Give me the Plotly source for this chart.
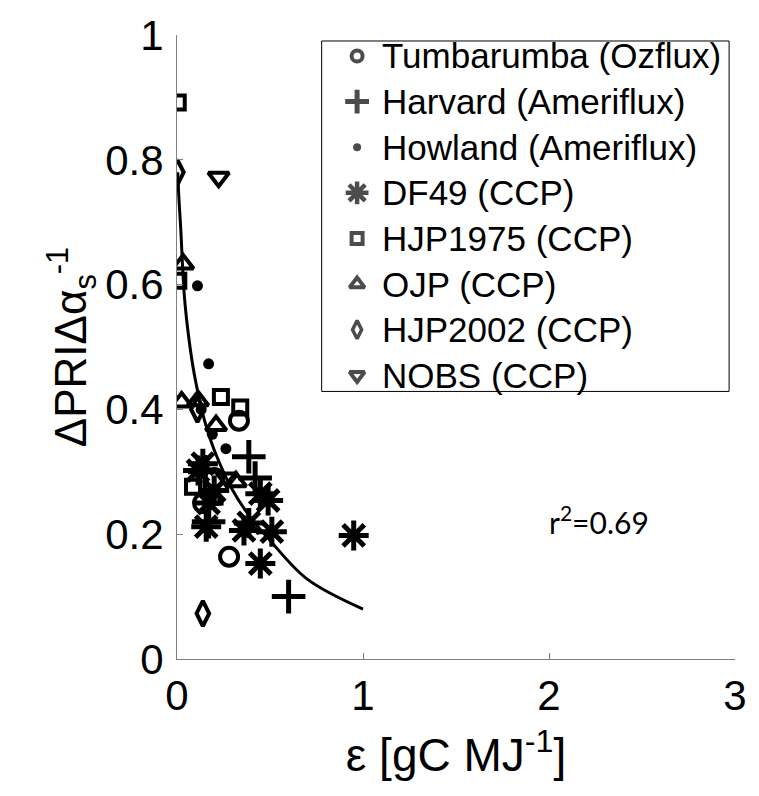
import plotly.graph_objects as go

# Site observations: light-use efficiency (x) vs. normalised PRI response (y)
tumbarumba_x = [0.28, 0.333, 0.14, 0.20]
tumbarumba_y = [0.164, 0.382, 0.25, 0.29]

harvard_x = [0.60, 0.386, 0.42, 0.17, 0.15]
harvard_y = [0.10, 0.324, 0.29, 0.22, 0.30]

howland_x = [0.11, 0.17, 0.263, 0.13, 0.19]
howland_y = [0.598, 0.473, 0.337, 0.40, 0.36]

df49_x = [0.95, 0.51, 0.49, 0.448, 0.36, 0.157, 0.448, 0.113, 0.139, 0.386, 0.20, 0.17]
df49_y = [0.198, 0.204, 0.254, 0.153, 0.206, 0.212, 0.265, 0.302, 0.313, 0.218, 0.27, 0.25]

hjp1975_x = [0.004, 0.007, 0.236, 0.34, 0.086, 0.19]
hjp1975_y = [0.892, 0.606, 0.42, 0.403, 0.276, 0.26]

ojp_x = [0.033, 0.025, 0.113, 0.21, 0.316]
ojp_y = [0.633, 0.412, 0.414, 0.374, 0.284]

hjp2002_x = [0.002, 0.139, 0.11]
hjp2002_y = [0.78, 0.073, 0.40]

nobs_x = [0.224, 0.27]
nobs_y = [0.772, 0.29]

# Fitted curve through all sites
fit_x = [0.004, 0.01, 0.02, 0.04, 0.07, 0.1, 0.15, 0.2, 0.3, 0.4, 0.5, 0.7, 1.0]
fit_y = [0.78, 0.74, 0.69, 0.58, 0.50, 0.445, 0.38, 0.335, 0.27, 0.225, 0.19, 0.128, 0.08]

r2_label = "r<sup>2</sup>=0.69"

x_ticks = [0, 1, 2, 3]
y_ticks = [0, 0.2, 0.4, 0.6, 0.8, 1]
y_tick_text = ["0", "0.2", "0.4", "0.6", "0.8", "1"]

FONT = "Liberation Sans, Arial, sans-serif"

# name, x, y, plot symbol, plot size, plot stroke, key size, key stroke
series = [
    ("Tumbarumba (Ozflux)", tumbarumba_x, tumbarumba_y, "circle-open", 18, 4, 11, 4),
    ("Harvard (Ameriflux)", harvard_x, harvard_y, "cross-thin-open", 24, 5, 17, 5),
    ("Howland (Ameriflux)", howland_x, howland_y, "circle", 11, 0, 8, 0),
    ("DF49 (CCP)", df49_x, df49_y, "asterisk-open", 25, 5, 19, 4.5),
    ("HJP1975 (CCP)", hjp1975_x, hjp1975_y, "square-open", 14, 4, 11, 4),
    ("OJP (CCP)", ojp_x, ojp_y, "triangle-up-open", 18, 4, 13, 4),
    ("HJP2002 (CCP)", hjp2002_x, hjp2002_y, "diamond-tall-open", 18, 4, 13, 3.5),
    ("NOBS (CCP)", nobs_x, nobs_y, "triangle-down-open", 18, 4, 13, 4),
]

# Plot-area geometry (pixels) used by the overlay axes for the key
PLOT_L, PLOT_R, PLOT_T, PLOT_B = 177, 744, 34, 659
KEY_BOX = (324, 738, 40, 391)
KEY_SYMBOL_X, KEY_TEXT_X = 360, 383
KEY_FIRST_ROW, KEY_ROW_STEP = 55, 45.7

fig = go.Figure()

fig.add_trace(go.Scatter(
    x=fit_x, y=fit_y, mode="lines", line=dict(color="black", width=3, shape="spline"),
    showlegend=False, hoverinfo="skip",
))

for name, xs, ys, sym, size, lw, _, _ in series:
    fig.add_trace(go.Scatter(
        x=xs, y=ys, mode="markers", name=name, showlegend=False,
        marker=dict(symbol=sym, size=size, color="black",
                    line=dict(color="black", width=lw)),
    ))

# Key: boxed list of site symbols and names on a pixel-unit overlay axis
key_rows = [KEY_FIRST_ROW + i * KEY_ROW_STEP for i in range(len(series))]
fig.add_shape(
    type="rect", xref="x2", yref="y2",
    x0=KEY_BOX[0], x1=KEY_BOX[1], y0=KEY_BOX[2], y1=KEY_BOX[3],
    line=dict(color="black", width=1), fillcolor="white", layer="below",
)
fig.add_trace(go.Scatter(
    x=[KEY_SYMBOL_X] * len(series), y=key_rows, xaxis="x2", yaxis="y2",
    mode="markers", showlegend=False, hoverinfo="skip", cliponaxis=False,
    marker=dict(
        symbol=[s[3] for s in series], size=[s[6] for s in series], color="black",
        line=dict(color="black", width=[s[7] for s in series]),
    ),
))
for s, row in zip(series, key_rows):
    fig.add_annotation(
        x=KEY_TEXT_X, y=row, xref="x2", yref="y2", text=s[0], showarrow=False,
        xanchor="left", yanchor="middle",
        font=dict(family=FONT, size=35, color="black"),
    )

fig.add_annotation(
    x=2.27, y=0.222, xref="x", yref="y", text=r2_label, showarrow=False,
    font=dict(family="Lato, sans-serif", size=30, color="black"),
)

axis_common = dict(
    showgrid=False, zeroline=False, showline=True, linecolor="#808080", linewidth=1,
    ticks="inside", ticklen=6, tickcolor="#808080", mirror=False,
    tickfont=dict(family=FONT, size=42, color="black"),
)

fig.update_xaxes(
    range=[0, 3], tickvals=x_ticks, ticktext=[str(v) for v in x_ticks],
    title=dict(text="\u03b5 [gC MJ<sup>-1</sup>]", font=dict(family=FONT, size=46, color="black"), standoff=20),
    **axis_common,
)
fig.update_yaxes(
    range=[0, 1], tickvals=y_ticks, ticktext=y_tick_text, ticklabelstandoff=4,
    title=dict(text="\u0394PRI\u0394\u03b1<sub>s</sub><sup>-1</sup>", font=dict(family=FONT, size=44, color="black"), standoff=4),
    **axis_common,
)

fig.update_layout(
    width=759, height=796,
    margin=dict(l=PLOT_L, r=759 - PLOT_R, t=PLOT_T, b=796 - PLOT_B),
    plot_bgcolor="white", paper_bgcolor="white",
    showlegend=False,
    xaxis2=dict(overlaying="x", range=[PLOT_L, PLOT_R], visible=False, fixedrange=True),
    yaxis2=dict(overlaying="y", range=[PLOT_B, PLOT_T], visible=False, fixedrange=True),
)

fig.write_html("out.html")
